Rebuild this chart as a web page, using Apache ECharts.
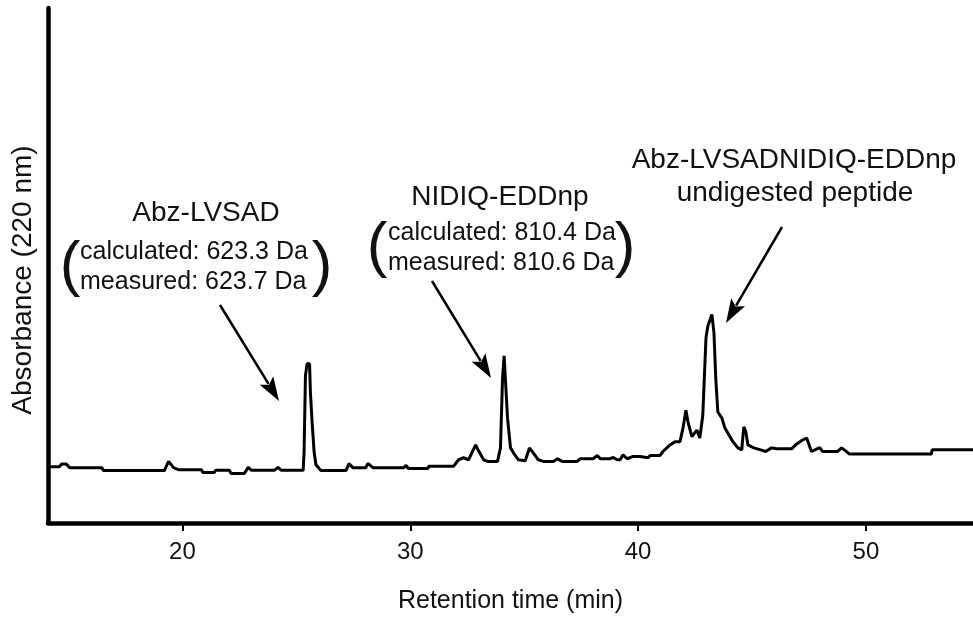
<!DOCTYPE html>
<html>
<head>
<meta charset="utf-8">
<script src="https://cdn.jsdelivr.net/npm/echarts@6/dist/echarts.min.js"></script>
<style>
  html, body { margin: 0; padding: 0; background: #fff; }
  #myChart { width: 973px; height: 619px; }
</style>
</head>
<body>
<div id="myChart"></div>
<script>
// retention time (min) and absorbance (arbitrary units)
var retentionTime = [
  14.05, 14.60, 14.70, 14.90, 15.05, 16.46, 16.54, 19.21, 19.39, 19.61,
  19.82, 20.83, 20.90, 21.40, 21.45, 22.06, 22.14, 22.71, 22.89, 23.02,
  24.03, 24.20, 24.33, 25.30, 25.34, 25.40, 25.47, 25.58, 25.62, 25.70,
  25.78, 25.86, 26.08, 27.18, 27.31, 27.48, 28.05, 28.14, 28.36, 29.72,
  29.80, 29.93, 30.77, 30.81, 31.90, 32.12, 32.34, 32.56, 32.87, 33.00,
  33.22, 33.39, 33.83, 33.96, 34.05, 34.12, 34.20, 34.27, 34.40, 34.53,
  34.75, 35.05, 35.23, 35.40, 35.62, 35.84, 36.28, 36.46, 36.67, 37.33,
  37.46, 38.03, 38.21, 38.34, 38.77, 38.91, 39.08, 39.21, 39.34, 39.52,
  39.78, 40.09, 40.44, 40.53, 40.96, 41.09, 41.40, 41.62, 41.84, 41.97,
  42.10, 42.19, 42.36, 42.58, 42.71, 42.84, 42.98, 43.06, 43.24, 43.33,
  43.41, 43.50, 43.68, 43.81, 43.94, 44.16, 44.38, 44.55, 44.64, 44.73,
  44.82, 45.08, 45.38, 45.60, 45.86, 46.08, 46.74, 46.96, 47.22, 47.40,
  47.61, 47.97, 48.10, 48.75, 48.93, 49.15, 49.28, 52.87, 52.91, 54.70
];
var absorbance = [
  10.94, 10.94, 11.46, 11.46, 10.75, 10.75, 10.17, 10.17, 11.96, 10.75,
  10.36, 10.36, 9.79, 9.79, 10.23, 10.23, 9.60, 9.60, 10.81, 10.23,
  10.23, 10.81, 10.23, 10.23, 13.82, 28.60, 30.90, 30.90, 25.14, 19.00,
  13.82, 11.32, 10.17, 10.17, 11.52, 10.75, 10.75, 11.57, 10.75, 10.75,
  11.19, 10.56, 10.56, 11.00, 11.00, 12.28, 12.67, 12.28, 15.16, 14.01,
  12.28, 11.96, 11.96, 14.59, 28.02, 32.44, 32.44, 20.35, 14.59, 13.63,
  12.28, 12.09, 14.59, 13.63, 12.28, 11.96, 11.96, 12.48, 11.96, 11.96,
  12.48, 12.48, 13.11, 12.48, 12.48, 12.73, 12.28, 12.28, 13.24, 12.48,
  12.92, 12.92, 12.67, 13.11, 13.11, 13.88, 15.16, 15.80, 15.80, 18.43,
  21.88, 19.64, 16.76, 18.04, 16.51, 20.92, 35.95, 38.20, 40.50, 36.91,
  28.02, 21.55, 20.35, 18.43, 17.47, 15.80, 14.59, 14.20, 18.68, 17.72,
  15.16, 14.59, 14.20, 13.88, 14.59, 14.40, 14.40, 15.36, 16.12, 16.51,
  13.88, 14.64, 13.88, 13.88, 14.59, 13.88, 13.38, 13.38, 14.20, 14.20
];
var xTickValues = [20, 30, 40, 50];

var FONT = "Liberation Sans, Arial, sans-serif";

function txt(x, y, s, size, align) {
  return {
    type: "text",
    style: {
      x: x, y: y, text: s, fill: "#111",
      font: size + "px " + FONT,
      textAlign: align || "center",
      textVerticalAlign: "middle"
    }
  };
}

// arrow: thin line with a filled head at (x2, y2)
function arrow(x1, y1, x2, y2) {
  var dx = x2 - x1, dy = y2 - y1;
  var len = Math.sqrt(dx * dx + dy * dy);
  var ux = dx / len, uy = dy / len;
  var headLen = 24, headW = 8;
  var bx = x2 - ux * headLen, by = y2 - uy * headLen;
  return [
    {
      type: "line",
      shape: { x1: x1, y1: y1, x2: bx + ux * 4, y2: by + uy * 4 },
      style: { stroke: "#000", lineWidth: 2.5 }
    },
    {
      type: "polygon",
      shape: {
        points: [
          [x2, y2],
          [bx - uy * headW, by + ux * headW],
          [bx + ux * 5, by + uy * 5],
          [bx + uy * headW, by - ux * headW]
        ]
      },
      style: { fill: "#000" }
    }
  ];
}

var yTitle = txt(0, 0, "Absorbance (220 nm)", 28);
yTitle.x = 23;
yTitle.y = 280;
yTitle.rotation = Math.PI / 2;

var annotations = [].concat(
  [
    yTitle,
    txt(206, 213, "Abz-LVSAD", 28),
    txt(80, 252, "calculated: 623.3 Da", 25, "left"),
    txt(80, 282, "measured: 623.7 Da", 25, "left"),
    txt(70, 267, "(", 62),
    txt(322, 267, ")", 62),

    txt(500, 197, "NIDIQ-EDDnp", 28),
    txt(388, 233, "calculated: 810.4 Da", 25, "left"),
    txt(388, 263, "measured: 810.6 Da", 25, "left"),
    txt(377, 248, "(", 62),
    txt(625, 248, ")", 62),

    txt(794, 160, "Abz-LVSADNIDIQ-EDDnp", 28),
    txt(795, 193, "undigested peptide", 28)
  ],
  arrow(220, 305, 279, 401),
  arrow(432, 281, 491, 378),
  arrow(782, 227, 726, 323)
);

var myChart = echarts.init(document.getElementById("myChart"));
myChart.setOption({
  animation: false,
  backgroundColor: "#fff",
  grid: { left: 48, right: 0, top: 8, bottom: 90, containLabel: false },
  xAxis: {
    type: "value",
    min: 14.1,
    max: 54.7,
    name: "Retention time (min)",
    nameLocation: "middle",
    nameGap: 66,
    nameTextStyle: { fontSize: 25, color: "#111", fontFamily: FONT },
    axisLine: { show: true, onZero: false, lineStyle: { color: "#000", width: 4.5 } },
    axisTick: { show: true, length: 8, customValues: xTickValues, lineStyle: { color: "#000", width: 2 } },
    axisLabel: { customValues: xTickValues, fontSize: 24, color: "#111", fontFamily: FONT, margin: 17 },
    splitLine: { show: false }
  },
  yAxis: {
    type: "value",
    min: 0,
    max: 100,
    axisLine: { show: true, onZero: false, lineStyle: { color: "#000", width: 4.5 } },
    axisTick: { show: false },
    axisLabel: { show: false },
    splitLine: { show: false }
  },
  series: [
    {
      type: "line",
      data: retentionTime.map(function (t, i) { return [t, absorbance[i]]; }),
      showSymbol: false,
      lineStyle: { color: "#000", width: 3 },
      z: 3
    }
  ],
  graphic: annotations
});
</script>
</body>
</html>
